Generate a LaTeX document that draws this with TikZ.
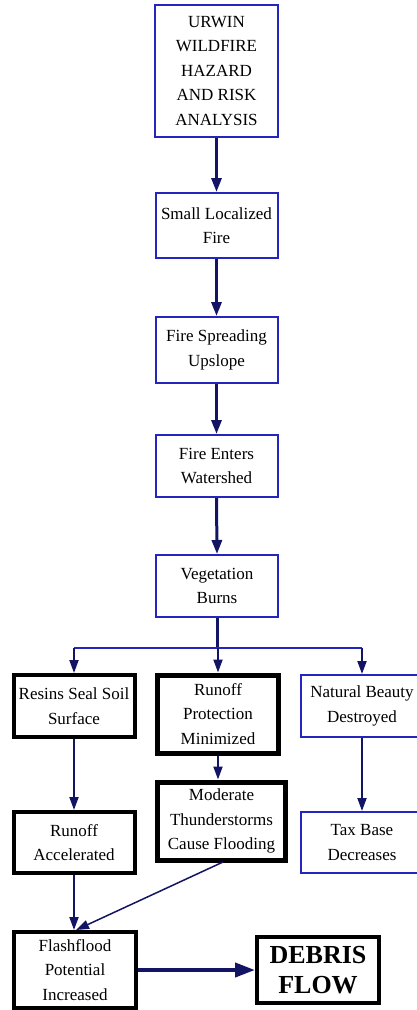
\documentclass[tikz,border=0pt]{standalone}
\usepackage{fontspec}
\setmainfont{Liberation Serif}
\usetikzlibrary{arrows.meta}
\definecolor{boxblue}{RGB}{36,36,190}
\definecolor{navy}{RGB}{20,20,100}
\begin{document}
\begin{tikzpicture}[x=1pt,y=-1pt,
  every node/.style={inner sep=0pt,align=center,font=\fontsize{17}{24.5}\selectfont},
  bluebox/.style={draw=boxblue,line width=2pt,fill=white},
  blackbox/.style={draw=black,line width=4pt,fill=white},
  heavybox/.style={draw=black,line width=5pt,fill=white},
  arr/.style={draw=navy,line width=3pt,-{Triangle[width=10pt,length=14pt]}},
  arrthin/.style={draw=navy,line width=2pt,-{Triangle[width=9pt,length=13pt]}},
  arrdiag/.style={draw=navy,line width=1.5pt,-{Triangle[width=9pt,length=13pt]}},
  arrbig/.style={draw=navy,line width=4pt,-{Triangle[width=14pt,length=20pt]}},
  branch/.style={draw=boxblue,line width=2pt}
]
\useasboundingbox (0,0) rectangle (417,1010);
\fill[white] (0,0) rectangle (417,1010);

\node[bluebox,minimum width=123pt,minimum height=132pt] (top) at (216.5,71)
  {URWIN\\WILDFIRE\\HAZARD\\AND RISK\\ANALYSIS};
\node[bluebox,minimum width=122pt,minimum height=65pt] (small) at (216.5,225.5)
  {Small Localized\\Fire};
\node[bluebox,minimum width=122pt,minimum height=66pt] (spread) at (216.5,350)
  {Fire Spreading\\Upslope};
\node[bluebox,minimum width=122pt,minimum height=62pt] (enters) at (216.5,466)
  {Fire Enters\\Watershed};
\node[bluebox,minimum width=122pt,minimum height=62pt] (veg) at (217,586)
  {Vegetation\\Burns};

\node[blackbox,minimum width=121pt,minimum height=62pt] (resins) at (74,706)
  {Resins Seal Soil\\Surface};
\node[heavybox,minimum width=121pt,minimum height=78pt] (protect) at (218,714)
  {Runoff\\Protection\\Minimized};
\node[bluebox,minimum width=122pt,minimum height=62pt] (beauty) at (362,706)
  {Natural Beauty\\Destroyed};

\node[blackbox,minimum width=121pt,minimum height=61pt] (accel) at (74,842.5)
  {Runoff\\Accelerated};
\node[heavybox,minimum width=128pt,minimum height=78pt] (storm) at (221.5,821)
  {Moderate\\Thunderstorms\\Cause Flooding};
\node[bluebox,minimum width=122pt,minimum height=61pt] (tax) at (362,842.5)
  {Tax Base\\Decreases};

\node[blackbox,minimum width=122pt,minimum height=76pt] (flash) at (75,970)
  {Flashflood\\Potential\\Increased};
\node[blackbox,minimum width=122pt,minimum height=66pt,
  font=\fontsize{26}{30}\selectfont\bfseries] (debris) at (318,970)
  {DEBRIS\\FLOW};

\draw[arr] (top.south) -- (small.north);
\draw[arr] (small.south) -- (spread.north);
\draw[arr] (spread.south) -- (enters.north);
\draw[arr] (enters.south) -- (veg.north);

\coordinate (bl) at (74,648);
\coordinate (br) at (362,648);
\draw[draw=navy,line width=3pt] (veg.south) -- (veg.south |- bl);
\draw[branch] (bl) -- (br);
\draw[arrthin] (bl) -- (resins.north);
\draw[arrthin] (protect.north |- bl) -- (protect.north);
\draw[arrthin] (br) -- (beauty.north);

\draw[arrthin] (resins.south) -- (accel.north);
\draw[arrthin] (protect.south) -- (protect.south |- storm.north);
\draw[arrthin] (beauty.south) -- (tax.north);

\draw[arrthin] (accel.south) -- (flash.north -| accel.south);
\coordinate (stormout) at (223,862);
\coordinate (flashin) at (76,930);
\draw[arrdiag] (stormout) -- (flashin);
\draw[arrbig] (flash.east) -- (debris.west);
\end{tikzpicture}
\end{document}
